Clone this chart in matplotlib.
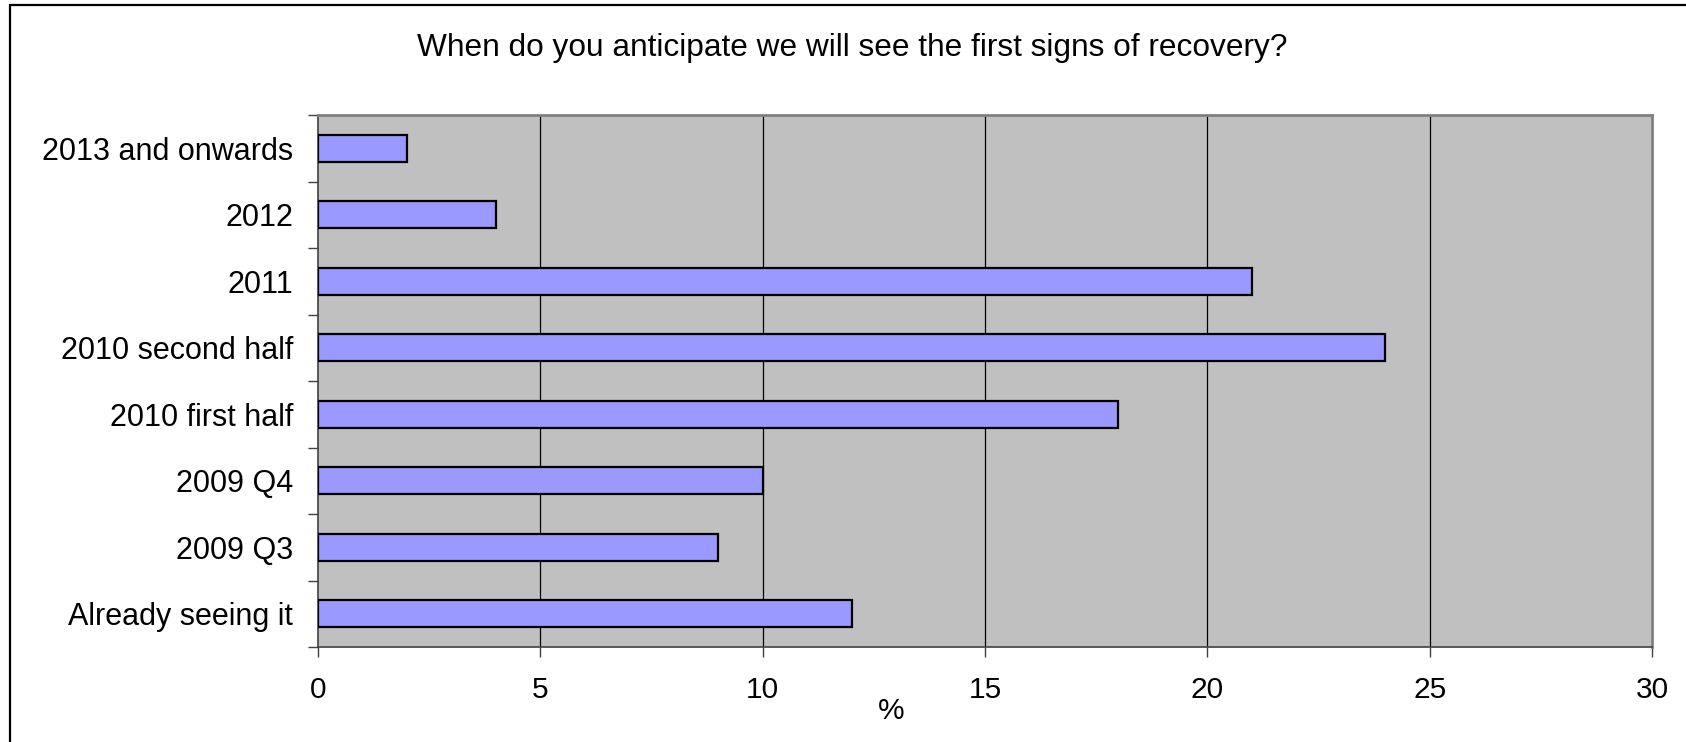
import numpy as np
import matplotlib
matplotlib.use('Agg')
import matplotlib.pyplot as plt
from matplotlib.patches import Rectangle

# survey answers, bottom to top
categories = ['Already seeing it', '2009 Q3', '2009 Q4', '2010 first half',
              '2010 second half', '2011', '2012', '2013 and onwards']
percent = [12, 9, 10, 18, 24, 21, 4, 2]
xticks = [0, 5, 10, 15, 20, 25, 30]
title = 'When do you anticipate we will see the first signs of recovery?'

def main():
    plt.rcParams['font.family'] = ['Liberation Sans', 'DejaVu Sans']
    W, H = 1686, 742
    fig = plt.figure(figsize=(W/100, H/100), dpi=100)

    # outer frame of the chart area
    fig.patches.append(Rectangle((10/W, -0.1), 1.2, (H-5)/H + 0.1, transform=fig.transFigure,
                                 fill=False, edgecolor='black', linewidth=1.6))

    ax = fig.add_axes([318/W, (H-647)/H, 1334/W, 532/H])
    ax.set_facecolor('#C0C0C0')
    y = np.arange(len(categories))
    ax.barh(y, percent, height=0.41, color='#9999FF', edgecolor='black', linewidth=1.6, zorder=3)

    ax.set_xlim(0, 30)
    ax.set_ylim(-0.5, len(categories) - 0.5)
    ax.set_xticks(xticks)
    ax.set_xticklabels([str(t) for t in xticks], fontsize=21.5)
    ax.set_yticks(y)
    ax.set_yticklabels(categories, fontsize=22)
    ax.set_yticks(np.arange(len(categories) + 1) - 0.5, minor=True)
    ax.tick_params(axis='y', which='major', length=0, pad=18)
    ax.tick_params(axis='y', which='minor', length=7.2, width=1, color='#404040')
    ax.tick_params(axis='x', length=7.2, width=1, color='#404040', pad=14)
    for xv in xticks[1:-1]:
        ax.axvline(xv, color='black', linewidth=0.9, zorder=1)

    for side in ['top', 'right']:
        ax.spines[side].set_color('#808080')
        ax.spines[side].set_linewidth(2)
    ax.spines['left'].set_color('#404040')
    ax.spines['bottom'].set_color('#404040')
    ax.spines['left'].set_linewidth(1.2)
    ax.spines['bottom'].set_linewidth(1.2)

    fig.text(852/W, (H-56)/H, title, ha='center', va='baseline', fontsize=22.8)
    fig.text(891/W, (H-711)/H, '%', ha='center', va='center', fontsize=21.5)

    fig.savefig('out.png', dpi=100)
    plt.close(fig)

if __name__ == '__main__': main()
